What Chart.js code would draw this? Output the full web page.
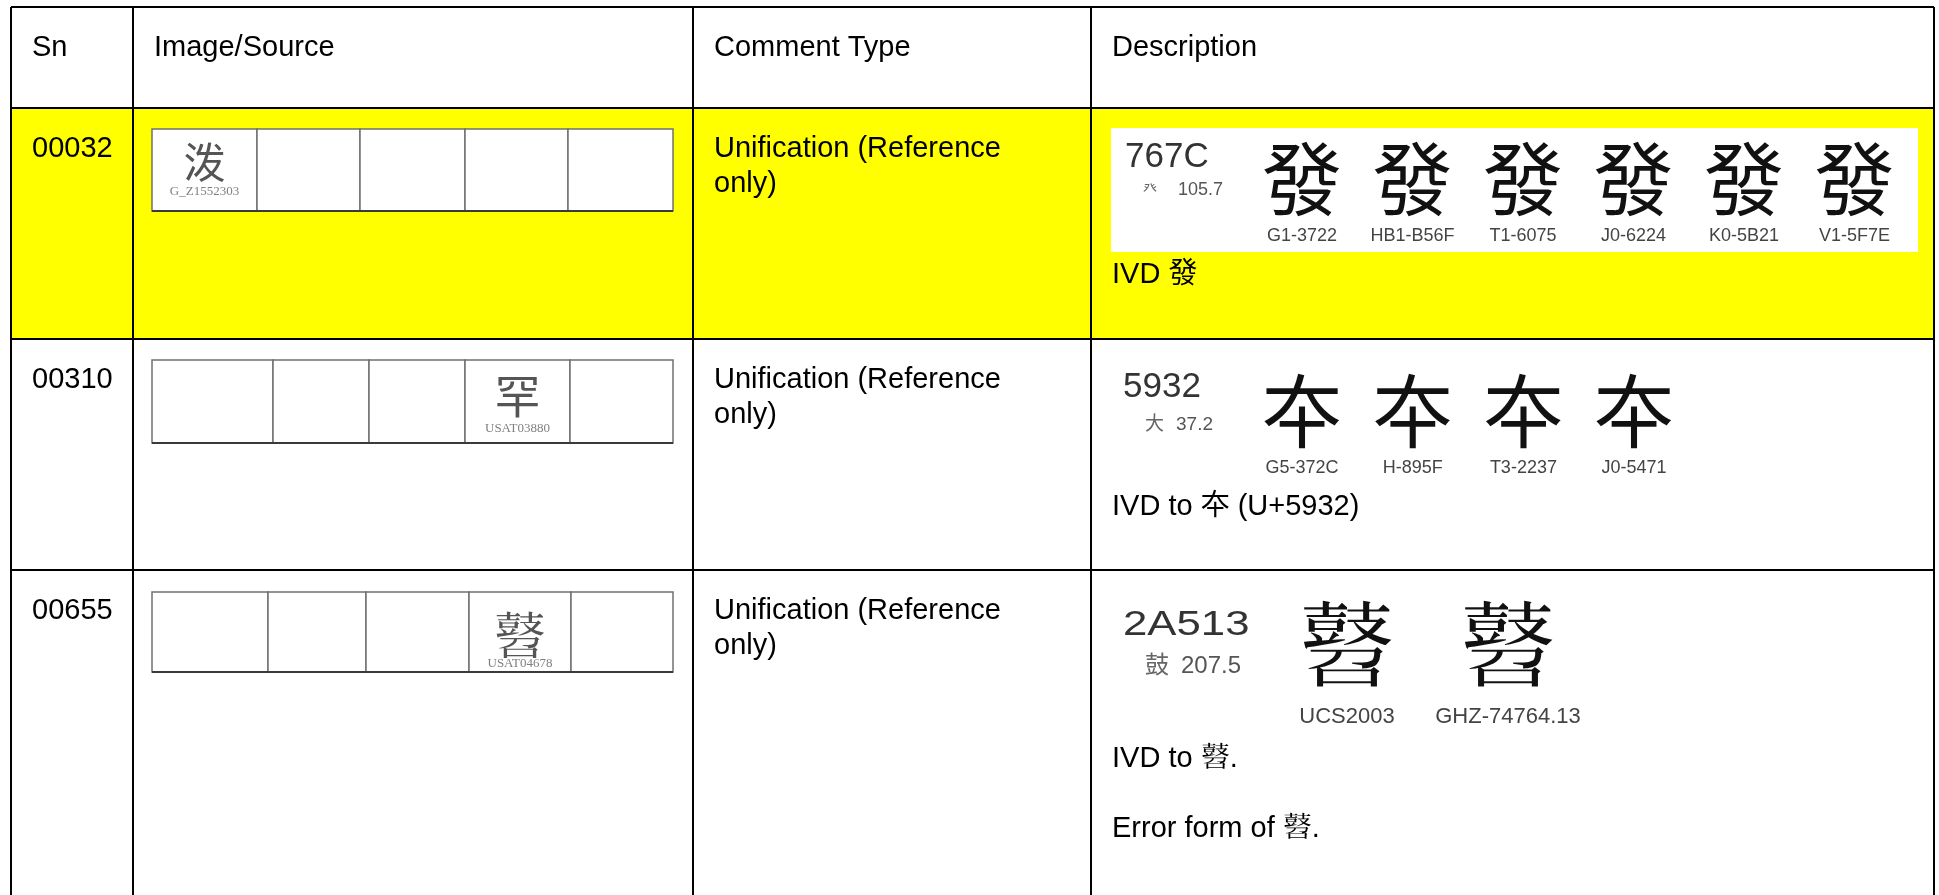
<!DOCTYPE html>
<html>
<head>
<meta charset="utf-8">
<script src="https://cdn.jsdelivr.net/npm/chart.js@4.4.1/dist/chart.umd.min.js"></script>
<style>
  html, body { margin: 0; padding: 0; background: #fff; overflow: hidden; }
  canvas { display: block; }
</style>
</head>
<body>
<canvas id="table" width="1939" height="895"></canvas>
<script>
// Table content
const headers = ['Sn', 'Image/Source', 'Comment Type', 'Description'];
const serials = ['00032', '00310', '00655'];
const highlighted = [true, false, false];
const commentTypes = ['Unification (Reference only)', 'Unification (Reference only)', 'Unification (Reference only)'];

// source glyph cell: glyph, source id, which of the 5 slots holds it
const sourceGlyphs = ['泼', '罕', '𪔓'];
const sourceIds = ['G_Z1552303', 'USAT03880', 'USAT04678'];
const sourceSlot = [0, 3, 3];

// description: code point, radical / stroke, glyph variants, notes
const codePoints = ['767C', '5932', '2A513'];
const radicals = ['癶', '大', '鼓'];
const strokes = ['105.7', '37.2', '207.5'];
const variantGlyphs = [
    ['發', '發', '發', '發', '發', '發'],
    ['夲', '夲', '夲', '夲'],
    ['𪔓', '𪔓']
];
const variantSources = [
    ['G1-3722', 'HB1-B56F', 'T1-6075', 'J0-6224', 'K0-5B21', 'V1-5F7E'],
    ['G5-372C', 'H-895F', 'T3-2237', 'J0-5471'],
    ['UCS2003', 'GHZ-74764.13']
];
const notes = [
    ['IVD 發'],
    ['IVD to 夲 (U+5932)'],
    ['IVD to 𪔓.', 'Error form of 𪔓.']
];

// Layout (page pixels, mapped through the chart scales)
const layout = {
    cols: [11, 133, 693, 1091, 1934],
    rows: [7, 108, 339, 570],
    bottom: 895,
    pad: 21,
    baseline: 49,
    lineGap: 35,
    wrap: 340,
    slots: [
        [152, 257, 360, 465, 568, 673],
        [152, 273, 369, 465, 570, 673],
        [152, 268, 366, 469, 571, 673]
    ],
    slotBox: [[129, 211], [360, 443], [592, 672]],
    srcGlyph: [{ y: 178, size: 42, labelY: 195 }, { y: 413, size: 46, labelY: 432 }, { y: 655, size: 52, labelY: 667 }],
    desc: [
        { box: [1111, 128, 1918, 252], code: [1125, 167, 35, 1], rad: [1143, 193, 14], num: [1178, 195, 18],
          glyph: [1302, 110.5, 209, 80], label: [241, 18], notes: [283, 35] },
        { box: null, code: [1123, 397, 35, 1], rad: [1145, 430, 19], num: [1176, 430, 19],
          glyph: [1302, 110.7, 441, 80], label: [473, 18], notes: [515, 35] },
        { box: null, code: [1123, 635, 35, 1.25], rad: [1145, 673, 24], num: [1181, 673, 24],
          glyph: [1347, 161, 681, 96], label: [723, 22], notes: [767, 70] }
    ]
};

const SANS = '"Liberation Sans", Arial, "Noto Sans CJK TC", sans-serif';
const CJK = '"Noto Sans CJK TC", "Noto Sans CJK SC", sans-serif';
const SERIF = '"Liberation Serif", "DejaVu Serif", serif';

function text(c, s, x, y, font, color, align, sx) {
    c.save();
    c.font = font;
    c.fillStyle = color;
    c.textAlign = align || 'left';
    c.textBaseline = 'alphabetic';
    c.translate(x, y);
    c.scale(sx || 1, 1);
    c.fillText(s, 0, 0);
    c.restore();
}

function wrapLines(c, s, font, max) {
    c.font = font;
    const words = s.split(' ');
    const lines = [];
    let line = '';
    words.forEach(w => {
        const t = line ? line + ' ' + w : w;
        if (line && c.measureText(t).width > max) { lines.push(line); line = w; }
        else line = t;
    });
    lines.push(line);
    return lines;
}

const tablePlugin = {
    id: 'tablePlugin',
    beforeDraw(chart) {
        const { ctx, scales: { x, y } } = chart;
        highlighted.forEach((on, r) => {
            if (!on) return;
            const top = y.getPixelForValue(layout.rows[r + 1]);
            const bot = y.getPixelForValue(layout.rows[r + 2] ?? layout.bottom);
            const left = x.getPixelForValue(layout.cols[0]);
            const right = x.getPixelForValue(layout.cols[layout.cols.length - 1]);
            ctx.fillStyle = '#ffff00';
            ctx.fillRect(left, top, right - left, bot - top);
        });
    },
    afterDraw(chart) {
        const { ctx, scales: { x, y } } = chart;
        const px = v => x.getPixelForValue(v);
        const py = v => y.getPixelForValue(v);
        const font29 = '29px ' + SANS;

        // header
        headers.forEach((h, i) => {
            text(ctx, h, px(layout.cols[i] + layout.pad), py(layout.rows[0] + layout.baseline), font29, '#000');
        });

        serials.forEach((sn, r) => {
            const top = layout.rows[r + 1];
            const base = top + layout.baseline;

            // Sn
            text(ctx, sn, px(layout.cols[0] + layout.pad), py(base), font29, '#000');

            // comment type
            wrapLines(ctx, commentTypes[r], font29, layout.wrap).forEach((ln, i) => {
                text(ctx, ln, px(layout.cols[2] + layout.pad), py(base + i * layout.lineGap), font29, '#000');
            });

            // source boxes
            const s = layout.slots[r];
            const [bt, bb] = layout.slotBox[r];
            for (let i = 0; i < s.length - 1; i++) {
                const l = px(s[i]), rr = px(s[i + 1]);
                ctx.fillStyle = '#fff';
                ctx.fillRect(l, py(bt), rr - l, py(bb) - py(bt));
                ctx.strokeStyle = '#707070';
                ctx.lineWidth = 1.5;
                ctx.strokeRect(l, py(bt), rr - l, py(bb) - py(bt));
            }
            ctx.strokeStyle = '#3a3a3a';
            ctx.lineWidth = 2;
            ctx.beginPath();
            ctx.moveTo(px(s[0]), py(bb));
            ctx.lineTo(px(s[s.length - 1]), py(bb));
            ctx.stroke();

            const k = sourceSlot[r];
            const cx = (s[k] + s[k + 1]) / 2;
            const g = layout.srcGlyph[r];
            text(ctx, sourceGlyphs[r], px(cx), py(g.y), g.size + 'px ' + CJK, '#555', 'center');
            text(ctx, sourceIds[r], px(cx), py(g.labelY), '13px ' + SERIF, '#808080', 'center');

            // description
            const d = layout.desc[r];
            if (d.box) {
                ctx.fillStyle = '#fff';
                ctx.fillRect(px(d.box[0]), py(d.box[1]), px(d.box[2]) - px(d.box[0]), py(d.box[3]) - py(d.box[1]));
            }
            text(ctx, codePoints[r], px(d.code[0]), py(d.code[1]), d.code[2] + 'px ' + SANS, '#333', 'left', d.code[3]);
            text(ctx, radicals[r], px(d.rad[0]), py(d.rad[1]), d.rad[2] + 'px ' + CJK, '#666');
            text(ctx, strokes[r], px(d.num[0]), py(d.num[1]), d.num[2] + 'px ' + SANS, '#555');
            variantGlyphs[r].forEach((gl, i) => {
                const gx = d.glyph[0] + i * d.glyph[1];
                text(ctx, gl, px(gx), py(d.glyph[2]), d.glyph[3] + 'px ' + CJK, '#111', 'center');
                text(ctx, variantSources[r][i], px(gx), py(d.label[0]), d.label[1] + 'px ' + SANS, '#444', 'center');
            });
            notes[r].forEach((n, i) => {
                text(ctx, n, px(layout.cols[3] + layout.pad), py(d.notes[0] + i * d.notes[1]), font29, '#000');
            });
        });
    }
};

const gridScale = (min, max, edges, reverse) => ({
    type: 'linear',
    min: min,
    max: max,
    reverse: reverse,
    afterBuildTicks: scale => { scale.ticks = edges.map(v => ({ value: v })); },
    ticks: { display: false },
    grid: { color: '#000', lineWidth: 2, drawTicks: false },
    border: { display: false }
});

const ctx = document.getElementById('table').getContext('2d');
const table = new Chart(ctx, {
    type: 'scatter',
    data: { datasets: [] },
    options: {
        responsive: false,
        animation: false,
        devicePixelRatio: 1,
        layout: { padding: { left: layout.cols[0], top: layout.rows[0], right: 1939 - layout.cols[4], bottom: 0 } },
        plugins: { legend: { display: false }, tooltip: { enabled: false } },
        scales: {
            x: gridScale(layout.cols[0], layout.cols[4], layout.cols, false),
            y: gridScale(layout.rows[0], layout.bottom, layout.rows, true)
        }
    },
    plugins: [tablePlugin]
});
</script>
</body>
</html>
